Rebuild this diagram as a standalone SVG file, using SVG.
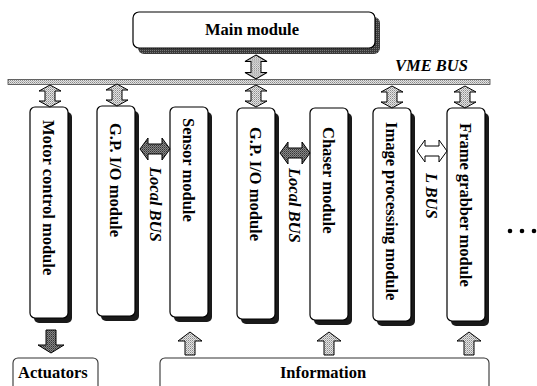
<svg xmlns="http://www.w3.org/2000/svg" xmlns:xlink="http://www.w3.org/1999/xlink" width="537" height="386" viewBox="0 0 537 386">
<defs>
<pattern id="lite" width="2" height="2" patternUnits="userSpaceOnUse">
<rect width="2" height="2" fill="#e4e4e4"/>
<rect width="1" height="1" fill="#8a8a8a"/>
<rect x="1" y="1" width="1" height="1" fill="#b0b0b0"/>
</pattern>
<pattern id="dark" width="2" height="2" patternUnits="userSpaceOnUse">
<rect width="2" height="2" fill="#888"/>
<rect width="1" height="1" fill="#333"/>
<rect x="1" y="1" width="1" height="1" fill="#555"/>
</pattern>
<pattern id="shade" width="2" height="2" patternUnits="userSpaceOnUse">
<rect width="2" height="2" fill="#3a3a3a"/>
<rect width="1" height="1" fill="#777"/>
</pattern>
<path id="vdbl" d="M0,0 L11,6 L5,6 L5,16 L11,16 L0,22 L-11,16 L-5,16 L-5,6 L-11,6 Z"/>
<path id="hdbl" d="M0,0 L8,-11 L8,-5 L22,-5 L22,-11 L30,0 L22,11 L22,5 L8,5 L8,11 Z"/>
<path id="up" d="M0,0 L12,9 L5,9 L5,23 L-5,23 L-5,9 L-12,9 Z"/>
<path id="down" d="M0,23 L13,15 L5,15 L5,0 L-5,0 L-5,15 L-13,15 Z"/>
</defs>
<style>
.box{fill:#fff;stroke:#000;stroke-width:1.2}
.obox{fill:#fff;stroke:#333;stroke-width:1.1}
.shadow{fill:#1a1a1a}
.mshadow{fill:url(#shade)}
.arrL{fill:url(#lite);stroke:#000;stroke-width:1}
.arrD{fill:url(#dark);stroke:#000;stroke-width:1}
.arrW{fill:#fff;stroke:#000;stroke-width:1}
.t{font-family:"Liberation Serif","Times New Roman",serif;font-weight:bold;font-size:16.5px;fill:#000}
.ti{font-family:"Liberation Serif","Times New Roman",serif;font-weight:bold;font-style:italic;font-size:16.5px;fill:#000}
</style>
<rect width="537" height="386" fill="#fff"/>

<g id="main-module">
<rect class="mshadow" x="138" y="17" width="242" height="37" rx="6"/>
<rect class="box" x="133" y="12" width="242" height="36" rx="6"/>
<text class="t" x="252" y="35" text-anchor="middle">Main module</text>
</g>

<g id="vme-bus">
<rect x="8" y="79.5" width="482" height="5" fill="url(#lite)" stroke="#444" stroke-width="0.8"/>
<text class="ti" x="395" y="71" font-size="17">VME BUS</text>
</g>

<g id="motor-control-module">
<rect class="shadow" x="34" y="112" width="38" height="211" rx="5"/>
<rect class="box" x="30" y="107" width="38" height="211" rx="5"/>
<text class="t" transform="translate(49,120) rotate(90)" y="6">Motor control module</text>
</g>
<g id="gpio-module-1">
<rect class="shadow" x="101" y="111" width="38" height="210" rx="5"/>
<rect class="box" x="97" y="106" width="38" height="210" rx="5"/>
<text class="t" transform="translate(116,123) rotate(90)" y="6">G.P. I/O module</text>
</g>
<g id="sensor-module">
<rect class="shadow" x="174" y="112" width="38" height="210" rx="5"/>
<rect class="box" x="170" y="107" width="38" height="210" rx="5"/>
<text class="t" transform="translate(189,118) rotate(90)" y="6">Sensor module</text>
</g>
<g id="gpio-module-2">
<rect class="shadow" x="241" y="113" width="38" height="211" rx="5"/>
<rect class="box" x="237" y="108" width="38" height="211" rx="5"/>
<text class="t" transform="translate(256,127) rotate(90)" y="6">G.P. I/O module</text>
</g>
<g id="chaser-module">
<rect class="shadow" x="314" y="113" width="38" height="212" rx="5"/>
<rect class="box" x="310" y="108" width="38" height="212" rx="5"/>
<text class="t" transform="translate(329,127) rotate(90)" y="6">Chaser module</text>
</g>
<g id="image-processing-module">
<rect class="shadow" x="377" y="113" width="38" height="213" rx="5"/>
<rect class="box" x="373" y="108" width="38" height="213" rx="5"/>
<text class="t" transform="translate(392,122) rotate(90)" y="6">Image processing module</text>
</g>
<g id="frame-grabber-module">
<rect class="shadow" x="451" y="113" width="38" height="213" rx="5"/>
<rect class="box" x="447" y="108" width="38" height="213" rx="5"/>
<text class="t" transform="translate(466,123) rotate(90)" y="6">Frame grabber module</text>
</g>

<g id="actuators">
<rect class="obox" x="13" y="358" width="85" height="40" rx="5"/>
<text class="t" x="18" y="378">Actuators</text>
</g>
<g id="information">
<rect class="obox" x="160" y="358" width="329" height="40" rx="5"/>
<text class="t" x="323" y="378" text-anchor="middle">Information</text>
</g>

<g id="ellipsis">
<circle cx="510" cy="231" r="2.3" fill="#000"/>
<circle cx="522" cy="231" r="2.3" fill="#000"/>
<circle cx="534" cy="231" r="2.3" fill="#000"/>
</g>

<g id="connectors">
<use href="#vdbl" class="arrL" transform="translate(256,55) scale(1,1.09)"/>
<use href="#vdbl" class="arrL" x="50" y="85"/>
<use href="#vdbl" class="arrL" x="117" y="84"/>
<use href="#vdbl" class="arrL" x="256" y="85"/>
<use href="#vdbl" class="arrL" x="392" y="86"/>
<use href="#vdbl" class="arrL" x="465" y="86"/>
<use href="#hdbl" class="arrD" x="140" y="149"/>
<use href="#hdbl" class="arrD" x="280" y="153"/>
<use href="#hdbl" class="arrW" x="417" y="151"/>
<use href="#down" class="arrD" x="51" y="330"/>
<use href="#up" class="arrL" x="190" y="332"/>
<use href="#up" class="arrL" x="329" y="332"/>
<use href="#up" class="arrL" x="469" y="332"/>
<text class="ti" transform="translate(156,167) rotate(90)" y="6">Local BUS</text>
<text class="ti" transform="translate(295,168) rotate(90)" y="6" font-size="15.5">Local BUS</text>
<text class="ti" transform="translate(432,173) rotate(90)" y="6">L BUS</text>
</g>
</svg>
